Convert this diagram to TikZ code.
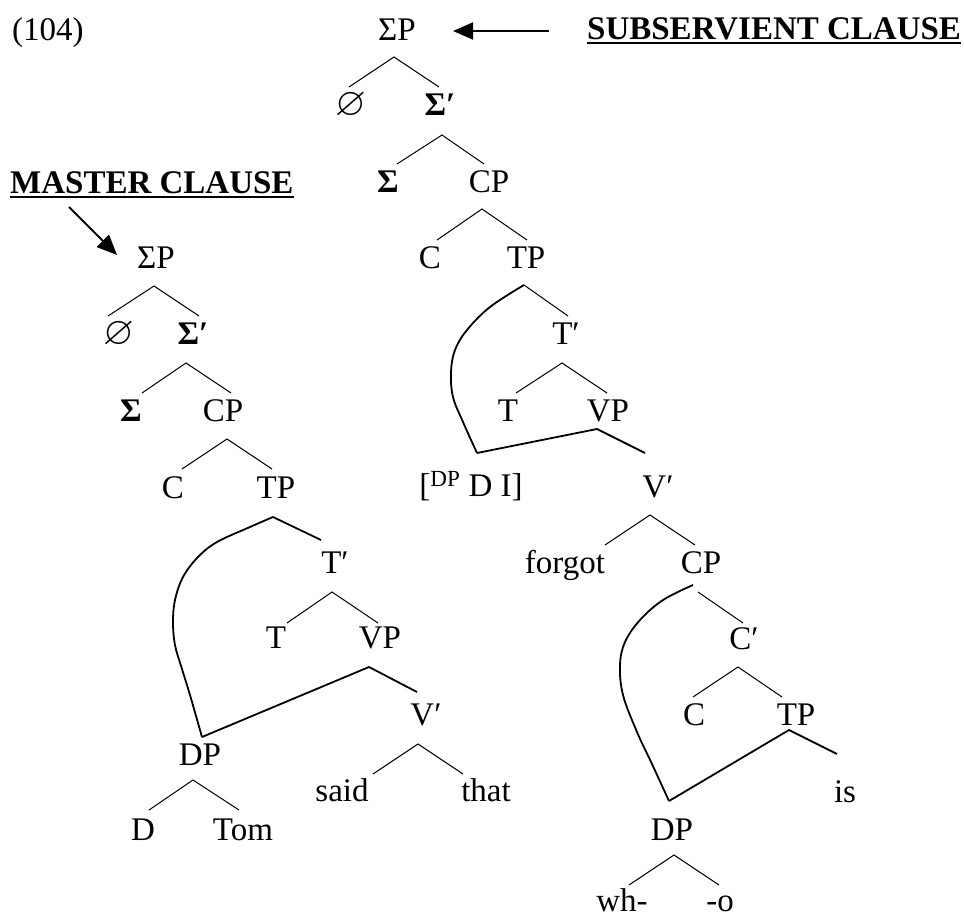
\documentclass[tikz,border=0pt]{standalone}
\usepackage{amssymb}
\usepackage{fontspec}
\setmainfont{Liberation Serif}
\usetikzlibrary{arrows.meta}
\tikzset{
  lbl/.style={font=\fontsize{33}{40}\selectfont, inner sep=0pt, anchor=base},
  br/.style={line width=1pt},
  mv/.style={line width=1.8pt, line join=miter},
  ptr/.style={line width=2pt, -{Triangle[length=20pt,width=17pt]}},
  ul/.style={line width=2.6pt}
}
\newcommand{\nul}{\scalebox{1.2}{$\varnothing$}}
\begin{document}
\begin{tikzpicture}[x=1pt,y=-1pt]
\useasboundingbox (0,0) rectangle (964,918);
% ---------- headings ----------
\node[lbl, anchor=base west] (ex) at (12,40) {(104)};
\node[lbl, anchor=base west] (subcl) at (587,39) {\bfseries SUBSERVIENT CLAUSE};
\draw[ul] ([yshift=-4pt]subcl.base west) -- ([yshift=-4pt]subcl.base east);
\node[lbl, anchor=base west] (mascl) at (10,193) {\bfseries MASTER CLAUSE};
\draw[ul] ([yshift=-4pt]mascl.base west) -- ([yshift=-4pt]mascl.base east);
% ---------- subservient tree ----------
\node[lbl] (sSP) at (397,40) {ΣP};
\node[lbl] (sNull) at (351,115) {\nul};
\node[lbl] (sSPr) at (440,115) {\bfseries Σ′};
\node[lbl] (sSig) at (388,192) {\bfseries Σ};
\node[lbl] (sCP) at (489,192) {CP};
\node[lbl] (sC) at (430,268) {C};
\node[lbl] (sTP) at (526,268) {TP};
\node[lbl] (sTb) at (566,344) {T′};
\node[lbl] (sT) at (508,421) {T};
\node[lbl] (sVP) at (608,421) {VP};
\node[lbl] (sDPI) at (471,496) {[\textsuperscript{DP} D I]};
\node[lbl] (sVb) at (658,497) {V′};
\node[lbl] (sForgot) at (565,573) {forgot};
\node[lbl] (sCPb) at (701,573) {CP};
\node[lbl] (sCb) at (744,649) {C′};
\node[lbl] (sCc) at (694,725) {C};
\node[lbl] (sTPb) at (796,725) {TP};
\node[lbl] (sIs) at (845,802) {is};
\node[lbl] (sDP) at (672,840) {DP};
\node[lbl] (sWh) at (622,911) {wh-};
\node[lbl] (sO) at (720,911) {-o};
% arrow
\coordinate (sArrS) at (549,31);
\coordinate (sArrT) at (453,31);
\draw[ptr] (sArrS) -- (sArrT);
% branches
\coordinate (a1) at (394,57); \coordinate (a1l) at (349,87); \coordinate (a1r) at (439,87);
\draw[br] (a1l) -- (a1) -- (a1r);
\coordinate (a2) at (442,135); \coordinate (a2l) at (397,164); \coordinate (a2r) at (484,164);
\draw[br] (a2l) -- (a2) -- (a2r);
\coordinate (a3) at (482,209); \coordinate (a3l) at (437,240); \coordinate (a3r) at (527,240);
\draw[br] (a3l) -- (a3) -- (a3r);
\coordinate (a4) at (524,285); \coordinate (a4r) at (568,316); \coordinate (a4l) at (477,453);
\draw[br] (a4) -- (a4r);
\draw[mv] plot[smooth, tension=0.6] coordinates {(524,285) (490,307) (467,330) (455,350) (451,372) (453,397) (463,422) (477,453)};
\coordinate (a5) at (562,363); \coordinate (a5l) at (516,393); \coordinate (a5r) at (607,393);
\draw[br] (a5l) -- (a5) -- (a5r);
\coordinate (a6) at (597,429); \coordinate (a6r) at (645,453);
\draw[mv] (a4l) -- (a6) -- (a6r);
\coordinate (a7) at (650,515); \coordinate (a7l) at (605,545); \coordinate (a7r) at (695,545);
\draw[br] (a7l) -- (a7) -- (a7r);
\coordinate (a8) at (693,585); \coordinate (a8b) at (698,592); \coordinate (a8r) at (743,623); \coordinate (a8l) at (669,801);
\draw[br] (a8b) -- (a8r);
\draw[mv] plot[smooth, tension=0.6] coordinates {(693,585) (663,600) (640,620) (625,642) (620,665) (623,695) (637,732) (652,764) (669,801)};
\coordinate (a9) at (738,667); \coordinate (a9l) at (693,697); \coordinate (a9r) at (782,697);
\draw[br] (a9l) -- (a9) -- (a9r);
\coordinate (a10) at (789,730); \coordinate (a10r) at (837,754);
\draw[mv] (a8l) -- (a10) -- (a10r);
\coordinate (a11) at (674,855); \coordinate (a11l) at (629,885); \coordinate (a11r) at (719,885);
\draw[br] (a11l) -- (a11) -- (a11r);
% ---------- master tree ----------
\coordinate (mArrS) at (69,207);
\coordinate (mArrT) at (117,255);
\draw[ptr] (mArrS) -- (mArrT);
\node[lbl] (mSP) at (156,268) {ΣP};
\node[lbl] (mNull) at (119,344) {\nul};
\node[lbl] (mSPr) at (193,344) {\bfseries Σ′};
\node[lbl] (mSig) at (131,421) {\bfseries Σ};
\node[lbl] (mCP) at (223,421) {CP};
\node[lbl] (mC) at (173,498) {C};
\node[lbl] (mTP) at (276,498) {TP};
\node[lbl] (mTb) at (335,573) {T′};
\node[lbl] (mT) at (276,648) {T};
\node[lbl] (mVP) at (380,648) {VP};
\node[lbl] (mVb) at (426,725) {V′};
\node[lbl] (mDP) at (200,765) {DP};
\node[lbl] (mSaid) at (342,801) {said};
\node[lbl] (mThat) at (486,801) {that};
\node[lbl] (mD) at (143,840) {D};
\node[lbl] (mTom) at (243,840) {Tom};
\coordinate (b1) at (154,286); \coordinate (b1l) at (108,316); \coordinate (b1r) at (199,316);
\draw[br] (b1l) -- (b1) -- (b1r);
\coordinate (b2) at (186,363); \coordinate (b2l) at (142,393); \coordinate (b2r) at (231,393);
\draw[br] (b2l) -- (b2) -- (b2r);
\coordinate (b3) at (227,439); \coordinate (b3l) at (182,469); \coordinate (b3r) at (272,469);
\draw[br] (b3l) -- (b3) -- (b3r);
\coordinate (b4) at (273,517); \coordinate (b4r) at (321,540); \coordinate (b4l) at (202,737);
\draw[mv] (b4) -- (b4r);
\draw[mv] plot[smooth, tension=0.6] coordinates {(273,517) (250,527) (217,542) (198,557) (183,577) (175,600) (173,622) (175,645) (182,669) (190,695) (202,737)};
\coordinate (b5) at (332,592); \coordinate (b5l) at (287,623); \coordinate (b5r) at (378,623);
\draw[br] (b5l) -- (b5) -- (b5r);
\coordinate (b6) at (369,667); \coordinate (b6r) at (417,692);
\draw[mv] (b4l) -- (b6) -- (b6r);
\coordinate (b7) at (418,744); \coordinate (b7l) at (373,774); \coordinate (b7r) at (463,774);
\draw[br] (b7l) -- (b7) -- (b7r);
\coordinate (b8) at (193,780); \coordinate (b8l) at (149,810); \coordinate (b8r) at (239,810);
\draw[br] (b8l) -- (b8) -- (b8r);
\end{tikzpicture}
\end{document}
